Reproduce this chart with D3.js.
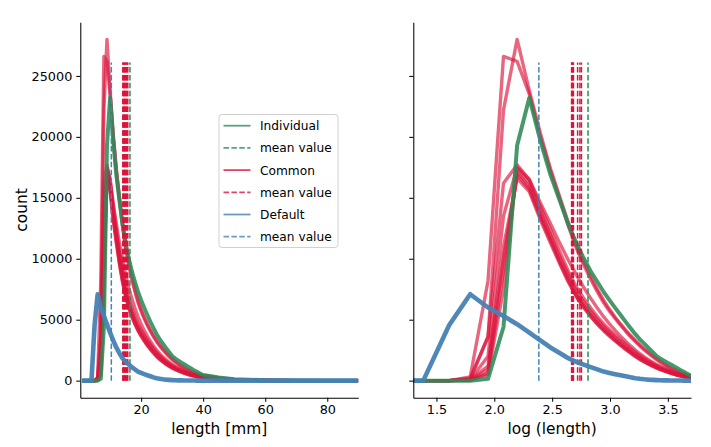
<!DOCTYPE html>
<html>
<head>
<meta charset="utf-8">
<script src="https://cdn.jsdelivr.net/npm/d3@7"></script>
<style>
    body { margin: 0; background: #fff; }
    svg { font-family: "DejaVu Sans", sans-serif; }
    .axis path, .axis line { stroke: #000; stroke-width: 1.05; }
    .axis text { font-size: 12.8px; fill: #000; }
    .label { font-size: 15.4px; fill: #000; }
    .legend text { font-size: 12.2px; fill: #000; }
</style>
</head>
<body>
<div id="chart"></div>
<script>
/*global d3*/

// bin centres in mm (1..40, then a sparse tail)
var lengths = [1, 2, 3, 4, 5, 6, 7, 8, 9, 10, 11, 12, 13, 14, 15, 16, 17, 18, 19, 20,
    21, 22, 23, 24, 25, 26, 27, 28, 29, 30, 31, 32, 33, 34, 35, 36, 37, 38, 39, 40,
    45, 50, 60, 70, 80, 90];

var individual = [0, 0, 0, 0, 0, 0, 150, 4400, 19300, 23200,
    19700, 16900, 14800, 12840, 11300, 10040, 8980, 8110, 7290, 6600,
    5970, 5380, 4820, 4300, 3810, 3390, 3030, 2680, 2350, 2030,
    1810, 1640, 1470, 1320, 1160, 1010, 860, 720, 580, 460,
    250, 120, 30, 10, 0, 0];

var common = [
    [0, 0, 0, 0, 0, 300, 8200, 26600, 26200, 23500,
        20000, 17200, 14900, 12700, 10900, 9500, 8300, 7300, 6400, 5700,
        5100, 4550, 4050, 3600, 3200, 2850, 2520, 2230, 1960, 1720,
        1510, 1320, 1150, 1000, 870, 750, 640, 550, 470, 400,
        200, 90, 20, 5, 0, 0],
    [0, 0, 0, 0, 0, 200, 3600, 22200, 28000, 23800,
        20300, 17400, 15100, 13000, 11100, 9750, 8600, 7500, 6600, 5850,
        5200, 4650, 4150, 3700, 3300, 2950, 2620, 2330, 2060, 1820,
        1600, 1400, 1220, 1060, 920, 800, 690, 590, 500, 430,
        220, 100, 20, 5, 0, 0],
    [0, 0, 0, 0, 0, 70, 2000, 13500, 17500, 16500,
        14600, 12900, 11300, 9900, 8700, 7650, 6750, 5950, 5250, 4650,
        4120, 3650, 3230, 2850, 2510, 2210, 1950, 1720, 1510, 1330,
        1170, 1030, 900, 790, 690, 600, 520, 450, 390, 340,
        150, 60, 15, 3, 0, 0],
    [0, 0, 0, 0, 0, 100, 3600, 16200, 17700, 16500,
        14300, 12400, 10600, 9000, 7700, 6750, 5950, 5250, 4650, 4180,
        3750, 3350, 2980, 2640, 2330, 2060, 1820, 1610, 1420, 1250,
        1100, 970, 850, 740, 640, 550, 470, 400, 340, 290,
        125, 50, 12, 2, 0, 0],
    [0, 0, 0, 0, 0, 50, 600, 9000, 17100, 15900,
        13600, 11700, 9900, 8400, 7100, 6200, 5450, 4800, 4250, 3800,
        3380, 3000, 2660, 2350, 2060, 1820, 1600, 1410, 1240, 1080,
        950, 830, 720, 630, 540, 460, 390, 330, 280, 240,
        100, 40, 10, 0, 0, 0],
    [0, 0, 0, 0, 0, 80, 1200, 11000, 16600, 15500,
        13200, 11300, 9600, 8100, 6900, 6000, 5250, 4620, 4100, 3650,
        3250, 2880, 2550, 2250, 1970, 1740, 1530, 1340, 1180, 1030,
        900, 790, 690, 600, 520, 440, 380, 320, 270, 230,
        95, 38, 9, 0, 0, 0],
    [0, 0, 0, 0, 0, 40, 500, 7500, 17400, 16200,
        13900, 12000, 10200, 8700, 7400, 6450, 5700, 5030, 4470, 4000,
        3580, 3200, 2840, 2510, 2210, 1950, 1720, 1520, 1330, 1170,
        1020, 900, 790, 690, 600, 510, 440, 370, 320, 270,
        115, 45, 11, 2, 0, 0],
    [0, 0, 0, 0, 0, 60, 900, 10000, 16900, 15700,
        13400, 11500, 9700, 8200, 6950, 6050, 5300, 4680, 4150, 3700,
        3300, 2930, 2600, 2300, 2020, 1780, 1570, 1380, 1210, 1060,
        930, 810, 710, 620, 530, 450, 385, 330, 280, 235,
        98, 40, 10, 0, 0, 0]
];

var fallback = [0, 0, 0, 0, 4540, 7090, 6000, 5300, 4630, 3940,
    3300, 2720, 2260, 1840, 1540, 1320, 1110, 920, 740, 630,
    530, 440, 360, 270, 200, 150, 110, 80, 60, 45,
    35, 25, 20, 15, 10, 8, 5, 4, 3, 2,
    0, 0, 0, 0, 0, 0];

// mean values: mm (left panel) and log-length (right panel)
var meanLin = {individual: 16.4, common: [14.1, 14.3, 14.5, 14.7, 15.0, 15.2, 15.5, 15.7], fallback: 10.4};
var meanLog = {individual: 2.81, common: [2.668, 2.670, 2.675, 2.680, 2.684, 2.720, 2.740, 2.753], fallback: 2.385};
var meanTop = 26100;

var legendLabels = ["Individual", "mean value", "Common", "mean value", "Default", "mean value"];
var yTicks = [0, 5000, 10000, 15000, 20000, 25000];
var xTicksLin = [20, 40, 60, 80];
var xTicksLog = [1.5, 2.0, 2.5, 3.0, 3.5];

(function () {
    "use strict";
    var W = 711, H = 447,
        top = 22.3, bottom = 397.7,
        colors = {individual: "seagreen", common: "crimson", fallback: "steelblue"},

        y = d3.scaleLinear().domain([-1400, 29400]).range([bottom, top]),
        xl = d3.scaleLinear().domain([0.4, 90]).range([80.3, 358.3]),
        xr = d3.scaleLinear().domain([1.3, 3.7]).range([413.3, 691]),

        svg = d3.select("#chart").append("svg")
            .attr("width", W)
            .attr("height", H);

    svg.append("rect").attr("width", W).attr("height", H).attr("fill", "#fff");

    function panel(x, fx, means, id) {
        var g = svg.append("g"),
            line = d3.line()
                .x(function (d) { return x(fx(d[0])); })
                .y(function (d) { return y(d[1]); }),
            plot = g.append("g").attr("clip-path", "url(#" + id + ")");

        svg.append("clipPath").attr("id", id).append("rect")
            .attr("x", x.range()[0]).attr("y", top)
            .attr("width", x.range()[1] - x.range()[0]).attr("height", bottom - top);

        function pairs(vals) { return lengths.map(function (l, i) { return [l, vals[i]]; }); }

        function means1(vals, color) {
            plot.append("g").selectAll("line")
                .data(vals)
                .enter().append("line")
                .attr("x1", function (d) { return x(d); })
                .attr("x2", function (d) { return x(d); })
                .attr("y1", y(0))
                .attr("y2", y(meanTop))
                .attr("stroke", color)
                .attr("stroke-width", 1.5)
                .attr("stroke-dasharray", "5.5,2.4");
        }

        plot.append("g").selectAll("path")
            .data(common)
            .enter().append("path")
            .attr("d", function (d) { return line(pairs(d)); })
            .attr("fill", "none")
            .attr("stroke", colors.common)
            .attr("stroke-opacity", 0.65)
            .attr("stroke-width", 3.4)
            .attr("stroke-linejoin", "round");

        plot.append("path")
            .attr("d", line(pairs(individual)))
            .attr("fill", "none")
            .attr("stroke", colors.individual)
            .attr("stroke-opacity", 0.88)
            .attr("stroke-width", 4)
            .attr("stroke-linejoin", "round");

        means1(means.common, colors.common);
        means1([means.individual], colors.individual);

        plot.append("path")
            .attr("d", line(pairs(fallback)))
            .attr("fill", "none")
            .attr("stroke", colors.fallback)
            .attr("stroke-opacity", 0.95)
            .attr("stroke-width", 4.6)
            .attr("stroke-linejoin", "round");

        means1([means.fallback], colors.fallback);

        return g;
    }

    var left = panel(xl, function (v) { return v; }, meanLin, "clipL"),
        right = panel(xr, Math.log, meanLog, "clipR");

    left.append("g")
        .attr("class", "axis")
        .attr("transform", "translate(0," + bottom + ")")
        .call(d3.axisBottom(xl).tickValues(xTicksLin).tickSize(4).tickPadding(3).tickSizeOuter(0));
    left.append("g")
        .attr("class", "axis")
        .attr("transform", "translate(" + xl.range()[0] + ",0)")
        .call(d3.axisLeft(y).tickValues(yTicks).tickFormat(d3.format("d")).tickSize(4).tickPadding(4).tickSizeOuter(0));

    right.append("g")
        .attr("class", "axis")
        .attr("transform", "translate(0," + bottom + ")")
        .call(d3.axisBottom(xr).tickValues(xTicksLog).tickFormat(d3.format(".1f")).tickSize(4).tickPadding(3).tickSizeOuter(0));
    right.append("g")
        .attr("class", "axis")
        .attr("transform", "translate(" + xr.range()[0] + ",0)")
        .call(d3.axisLeft(y).tickValues(yTicks).tickFormat("").tickSize(4).tickSizeOuter(0));

    svg.selectAll(".axis text").attr("font-family", "DejaVu Sans");

    svg.append("text").attr("class", "label")
        .attr("x", (xl.range()[0] + xl.range()[1]) / 2).attr("y", 434)
        .attr("text-anchor", "middle").text("length [mm]");
    svg.append("text").attr("class", "label")
        .attr("x", (xr.range()[0] + xr.range()[1]) / 2).attr("y", 434)
        .attr("text-anchor", "middle").text("log (length)");
    svg.append("text").attr("class", "label")
        .attr("transform", "translate(27," + ((top + bottom) / 2) + ") rotate(-90)")
        .attr("text-anchor", "middle").text("count");

    // legend
    var lg = svg.append("g").attr("class", "legend"),
        keys = ["individual", "individual", "common", "common", "fallback", "fallback"];

    lg.append("rect")
        .attr("x", 219).attr("y", 114.5)
        .attr("width", 119).attr("height", 133)
        .attr("rx", 3)
        .attr("fill", "#fff").attr("fill-opacity", 0.8)
        .attr("stroke", "#d0d0d0");

    var row = lg.selectAll(".row")
        .data(legendLabels)
        .enter().append("g")
        .attr("class", "row")
        .attr("transform", function (d, i) { return "translate(0," + (125.7 + i * 22.2) + ")"; });

    row.append("line")
        .attr("x1", 223.5).attr("x2", 250.5)
        .attr("stroke", function (d, i) { return colors[keys[i]]; })
        .attr("stroke-opacity", 0.8)
        .attr("stroke-width", 1.8)
        .attr("stroke-dasharray", function (d, i) { return i % 2 ? "5.5,2.4" : null; });

    row.append("text")
        .attr("x", 260)
        .attr("dy", "0.36em")
        .text(function (d) { return d; });
}());
</script>
</body>
</html>
